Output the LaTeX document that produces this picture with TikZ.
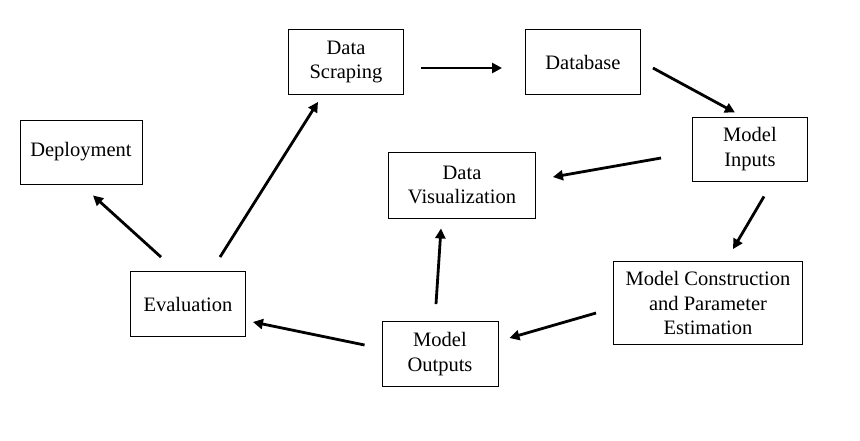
\documentclass[tikz,border=0pt]{standalone}
\usepackage{fontspec}
\setmainfont{Liberation Serif}
\usetikzlibrary{arrows.meta,calc}
\begin{document}
\begin{tikzpicture}[x=1pt,y=-1pt,
  box/.style={draw,line width=0.9pt,align=center,inner sep=0pt,
    font=\fontsize{20.5}{24.5}\selectfont},
  arr/.style={line width=2.8pt,-{Triangle[length=10pt,width=10pt]}}]
\useasboundingbox[fill=white] (0,0) rectangle (860,440);
\node[box,minimum width=122pt,minimum height=64pt] (dep) at (81,152) {Deployment};
\node[box,minimum width=115pt,minimum height=65pt] (ds) at (346,62) {Data\\Scraping};
\node[box,minimum width=115pt,minimum height=65pt] (db) at (583,62) {Database};
\node[box,minimum width=115pt,minimum height=64pt] (mi) at (750,149) {Model\\Inputs};
\node[box,minimum width=147pt,minimum height=66pt] (dv) at (462,185) {Data\\Visualization};
\node[box,minimum width=115pt,minimum height=65pt] (ev) at (188,304) {Evaluation};
\node[box,minimum width=116pt,minimum height=65pt] (mo) at (440,354) {Model\\Outputs};
\node[box,minimum width=189pt,minimum height=83pt] (mc) at (708,303) {Model Construction\\and Parameter\\Estimation};
\draw[arr] ($(ds.east)+(17,6)$) -- ($(db.west)+(-23,6)$);
\draw[arr] ($(db.east)+(12,6)$) -- ($(mi.north)+(-15,-4)$);
\draw[arr] ($(mi.west)+(-31,9)$) -- ($(dv.east)+(17,-8)$);
\draw[arr] ($(mi.south)+(14,15)$) -- ($(mc.north)+(25,-12)$);
\draw[arr] ($(mc.west)+(-17,10)$) -- ($(mo.east)+(11,-16)$);
\draw[arr] ($(mo.north)+(-4,-17)$) -- ($(dv.south)+(-21,10)$);
\draw[arr] ($(mo.west)+(-17,-9)$) -- ($(ev.east)+(7,18)$);
\draw[arr] ($(ev.north)+(32,-14)$) -- ($(ds.south)+(-28,7)$);
\draw[arr] ($(ev.north)+(-27,-14)$) -- ($(dep.south)+(12,11)$);
\end{tikzpicture}
\end{document}
